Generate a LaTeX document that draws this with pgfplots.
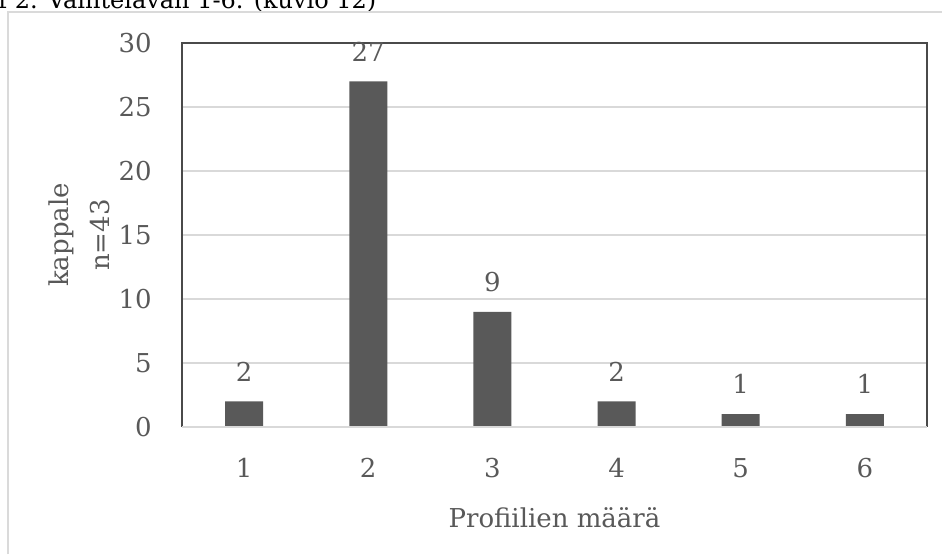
\documentclass[border=0pt]{standalone}
\usepackage{fontspec}
\setmainfont{DejaVu Serif}
\usepackage{pgfplots}
\pgfplotsset{compat=1.18}
\definecolor{txt}{HTML}{595959}
\definecolor{barc}{HTML}{595959}
\definecolor{gridc}{HTML}{D9D9D9}
\definecolor{framec}{HTML}{4A4A4A}
\definecolor{outerc}{HTML}{DADADA}
\begin{document}
\begin{tikzpicture}
\useasboundingbox (0,0) rectangle (471pt,277pt);
% caption of the page, cut off at the top
\node[anchor=base west, inner sep=0pt, font=\fontsize{12}{14}\selectfont, text=black]
  at (-1pt,273pt) {f 2. Vaihtelavan 1-6. (kuvio 12)};
\draw[outerc, line width=0.8pt] (4pt,0) -- (4pt,271pt) -- (471pt,271pt);
\begin{axis}[
  at={(91pt,63.5pt)}, anchor=south west,
  scale only axis, width=372.5pt, height=192pt,
  ybar, bar width=19pt,
  xmin=0.5, xmax=6.5, ymin=0, ymax=30,
  xtick={1,...,6}, ytick={0,5,...,30},
  major tick length=0pt,
  axis line style={draw=none},
  ymajorgrids, grid style={gridc, line width=0.7pt},
  clip=false,
  /pgf/number format/assume math mode=true,
  ticklabel style={font=\fontsize{13}{15}\selectfont, text=txt},
  xticklabel style={anchor=base, yshift=-25pt},
  yticklabel style={anchor=east, inner sep=0pt, xshift=-15pt},
  xlabel={Profiilien määrä},
  xlabel style={at={(axis description cs:0.5,-0.2604)}, anchor=base,
    font=\fontsize{13}{15}\selectfont, text=txt},
  ylabel={kappale\\n=43},
  ylabel style={at={(axis description cs:-0.0966,0.5)}, anchor=south, inner sep=0pt,
    align=center, font=\fontsize{13}{20.5}\selectfont, text=txt},
  nodes near coords,
  every node near coord/.append style={font=\fontsize{13}{15}\selectfont, text=txt,
    inner sep=0pt, yshift=10pt},
]
\addplot[fill=barc, draw=none] coordinates {(1,2) (2,27) (3,9) (4,2) (5,1) (6,1)};
\draw[framec, line width=0.75pt] (rel axis cs:0,0) -- (rel axis cs:0,1)
  -- (rel axis cs:1,1) -- (rel axis cs:1,0);
\draw[gridc, line width=0.75pt] (rel axis cs:0,0) -- (rel axis cs:1,0);
\end{axis}
\end{tikzpicture}
\end{document}
